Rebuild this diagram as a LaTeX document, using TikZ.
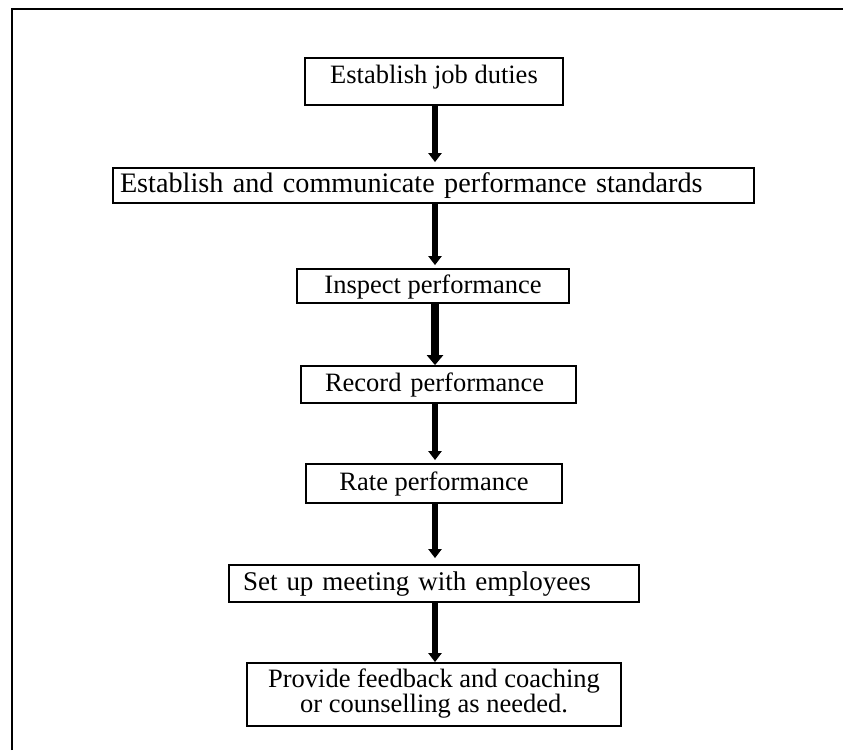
\documentclass[tikz,border=0pt]{standalone}
\usepackage{fontspec}
\setmainfont{Liberation Serif}
\usetikzlibrary{arrows.meta}
\begin{document}
\begin{tikzpicture}[x=1pt,y=-1pt,
  box/.style={draw, line width=1.8pt, inner sep=0pt, align=center,
    font=\fontsize{26.5}{25}\selectfont, text height=17pt, text depth=3pt},
  flow/.style={line width=5.5pt, -{Triangle[length=9pt,width=13pt]}},
  flowthick/.style={line width=8pt, -{Triangle[length=10pt,width=16pt]}},
  frameline/.style={line width=2pt}]
\useasboundingbox (0,0) rectangle (843,750);
\draw[frameline] (12,750) -- (12,9) -- (843,9);
\coordinate (col) at (435,0);
\node[box, minimum width=258, minimum height=47, text depth=14pt] (b1) at (434,81.5) {Establish job duties};
\node[box, minimum width=641, minimum height=35, text width=627pt, inner xsep=7pt, align=left, font=\fontsize{28.2}{28}\selectfont] (b2) at (433.5,185.5) {Establish and communicate performance standards};
\node[box, minimum width=272, minimum height=34] (b3) at (433,286) {Inspect performance};
\node[box, minimum width=275, minimum height=37, text width=227pt, inner xsep=24pt, align=left] (b4) at (438.5,384.5) {Record performance};
\node[box, minimum width=256, minimum height=39] (b5) at (434,483.5) {Rate performance};
\node[box, minimum width=410, minimum height=37, text width=382pt, inner xsep=14pt, align=left, font=\fontsize{27}{27}\selectfont] (b6) at (434,583.5) {Set up meeting with employees};
\node[box, minimum width=374, minimum height=63, text height=39pt, text depth=3pt] (b7) at (434,694.5) {Provide feedback and coaching\\or counselling as needed.};
\draw[flow, shorten >=5pt] (b1.south -| col) -- (b2.north -| col);
\draw[flow, shorten >=3pt] (b2.south -| col) -- (b3.north -| col);
\draw[flowthick] (b3.south -| col) -- (b4.north -| col);
\draw[flow, shorten >=3pt] (b4.south -| col) -- (b5.north -| col);
\draw[flow, shorten >=6pt] (b5.south -| col) -- (b6.north -| col);
\draw[flow] (b6.south -| col) -- (b7.north -| col);
\end{tikzpicture}
\end{document}
